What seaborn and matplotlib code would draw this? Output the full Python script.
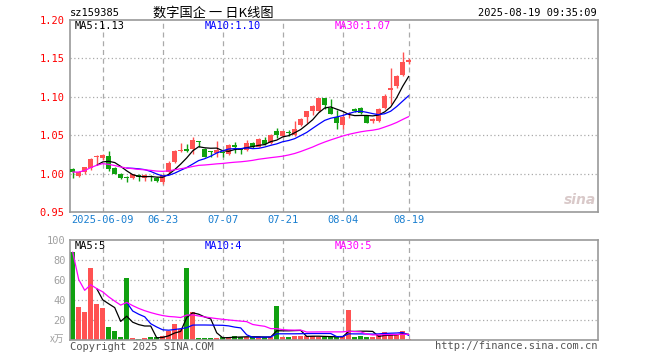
import numpy as np
import pandas as pd
import matplotlib
matplotlib.use("Agg")
import matplotlib.pyplot as plt
import seaborn as sns

# ---------------- data ----------------
opens = [1.006, 0.997, 1.002, 1.007, 1.021, 1.020, 1.023, 1.007, 1.000, 0.995,
         0.994, 0.998, 0.994, 0.996, 0.994, 0.989, 1.002, 1.015, 1.030, 1.032,
         1.032, 1.042, 1.032, 1.029, 1.027, 1.028, 1.025, 1.037, 1.032, 1.031,
         1.040, 1.035, 1.044, 1.040, 1.055, 1.049, 1.054, 1.050, 1.063, 1.0735,
         1.082, 1.081, 1.098, 1.086, 1.0735, 1.0635, 1.077, 1.084, 1.0857, 1.0757,
         1.068, 1.068, 1.085, 1.109, 1.114, 1.129, 1.145]
highs = [1.007, 1.003, 1.009, 1.020, 1.024, 1.025, 1.029, 1.008, 1.001, 0.997,
         1.000, 0.999, 0.999, 0.998, 0.995, 0.999, 1.016, 1.031, 1.0395, 1.038,
         1.048, 1.043, 1.033, 1.029, 1.042, 1.029, 1.038, 1.041, 1.033, 1.044,
         1.041, 1.046, 1.048, 1.051, 1.059, 1.056, 1.057, 1.068, 1.072, 1.082,
         1.089, 1.099, 1.099, 1.097, 1.083, 1.078, 1.080, 1.085, 1.087, 1.076,
         1.073, 1.085, 1.103, 1.138, 1.128, 1.158, 1.150]
lows = [0.994, 0.995, 1.000, 1.005, 1.012, 1.018, 1.004, 0.999, 0.993, 0.989,
        0.993, 0.991, 0.991, 0.990, 0.989, 0.986, 1.000, 1.014, 1.028, 1.028,
        1.026, 1.035, 1.021, 1.022, 1.022, 1.022, 1.024, 1.027, 1.025, 1.030,
        1.033, 1.034, 1.037, 1.039, 1.046, 1.048, 1.049, 1.049, 1.062, 1.066,
        1.0766, 1.080, 1.084, 1.077, 1.058, 1.058, 1.073, 1.080, 1.078, 1.066,
        1.066, 1.067, 1.084, 1.090, 1.111, 1.127, 1.143]
closes = [1.002, 1.002, 1.008, 1.019, 1.023, 1.024, 1.006, 1.000, 0.994, 0.994,
          0.999, 0.995, 0.998, 0.995, 0.990, 0.998, 1.014, 1.029, 1.031, 1.030,
          1.044, 1.041, 1.022, 1.028, 1.031, 1.027, 1.037, 1.034, 1.031, 1.040,
          1.034, 1.045, 1.039, 1.050, 1.050, 1.055, 1.053, 1.058, 1.071, 1.081,
          1.088, 1.098, 1.089, 1.078, 1.0665, 1.074, 1.078, 1.081, 1.079, 1.0665,
          1.071, 1.084, 1.1015, 1.111, 1.127, 1.145, 1.1485]
volumes = [88, 33, 28, 72, 36, 32, 13, 9, 3, 62,
           2, 1, 2, 3, 3, 4, 9, 16, 11, 72,
           28, 2, 2, 2, 2, 3, 3, 4, 3, 3,
           3, 3, 3, 3, 34, 3, 3, 4, 4, 4,
           4, 3, 3, 3, 3, 4, 30, 3, 4, 3,
           3, 5, 8, 5, 5, 9, 1.5]

holidays = ["2025-06-02"]
tick_dates = ["2025-06-09", "2025-06-23", "2025-07-07", "2025-07-21", "2025-08-04", "2025-08-19"]
tick_labels = ["2025-06-09", "06-23", "07-07", "07-21", "08-04", "08-19"]
price_ticks = [0.95, 1.00, 1.05, 1.10, 1.15, 1.20]
vol_ticks = [20, 40, 60, 80, 100]

code_text = "sz159385"
title_text = "数字国企 一 日K线图"
time_text = "2025-08-19 09:35:09"
price_legend = ["MA5:1.13", "MA10:1.10", "MA30:1.07"]
vol_legend = ["MA5:5", "MA10:4", "MA30:5"]

# ---------------- setup ----------------
sns.set_style("white")
plt.rcParams["font.family"] = ["DejaVu Sans Mono", "Noto Sans CJK SC"]

W, H = 660, 360
fig = plt.figure(figsize=(W / 100, H / 100), dpi=100)
fig.patch.set_facecolor("white")

def ax_rect(l, t, r, b):
    return [l / W, 1 - b / H, (r - l) / W, (b - t) / H]

def fx(x):
    return x / W

def fy(y):
    return 1 - y / H

ax_p = fig.add_axes(ax_rect(70, 20, 598, 212))
ax_v = fig.add_axes(ax_rect(70, 240, 598, 340))

dates = pd.bdate_range("2025-05-30", "2025-08-19")
dates = dates[~dates.isin(pd.to_datetime(holidays))]
idx = np.arange(len(dates))
tick_pos = [dates.get_loc(pd.Timestamp(d)) for d in tick_dates]

o = np.array(opens); h = np.array(highs); l = np.array(lows); c = np.array(closes)
v = np.array(volumes)
RED = "#ff5252"
GREEN = "#10a010"
up = c >= o
cols = np.where(up, RED, GREEN)

cs = pd.Series(c)
vs = pd.Series(v)
ma_colors = ["black", "#0000ff", "#ff00ff"]
p_mas = [cs.rolling(5).mean(), cs.rolling(10).mean(), cs.rolling(30, min_periods=1).mean()]
v_mas = [vs.rolling(5).mean(), vs.rolling(10).mean(), vs.rolling(30, min_periods=1).mean()]

xlim = (-0.45, 87.55)
FRAME = "#999999"
GRID = "#aaaaaa"

for ax in (ax_p, ax_v):
    ax.set_xlim(*xlim)
    for s in ax.spines.values():
        s.set_color(FRAME)
        s.set_linewidth(1.2)
    for p in tick_pos:
        ax.axvline(p, color=GRID, lw=0.9, ls=(0, (4, 3)), zorder=0)
    ax.tick_params(length=0)

# ---------------- price panel ----------------
ax_p.set_ylim(0.95, 1.20)
for t in price_ticks[1:-1]:
    ax_p.axhline(t, color=GRID, lw=0.9, ls=(0, (1, 2)), zorder=0)
ax_p.vlines(idx, l, h, colors=cols, lw=1.0, zorder=2)
body_h = np.maximum(np.abs(c - o), 0.0013)
ax_p.bar(idx, body_h, bottom=np.minimum(o, c), width=0.78, color=cols, lw=0, zorder=3)
for ma, col in zip(p_mas, ma_colors):
    sns.lineplot(x=idx, y=ma.values, ax=ax_p, color=col, lw=0.9, zorder=4)
ax_p.set_xlabel(""); ax_p.set_ylabel("")
ax_p.set_yticks(price_ticks)
ax_p.set_yticklabels([f"{t:.2f}" for t in price_ticks], color="red", fontsize=7.5)
ax_p.set_xticks(tick_pos)
ax_p.set_xticklabels(tick_labels, color="#1a7fd0", fontsize=7.5)
ax_p.tick_params(axis="y", pad=4)
ax_p.tick_params(axis="x", pad=2)

# ---------------- volume panel ----------------
ax_v.set_ylim(0, 100)
for t in vol_ticks[:-1]:
    ax_v.axhline(t, color=GRID, lw=0.9, ls=(0, (1, 2)), zorder=0)
ax_v.bar(idx, v, width=0.78, color=cols, lw=0, zorder=2)
for ma, col in zip(v_mas, ma_colors):
    sns.lineplot(x=idx, y=ma.values, ax=ax_v, color=col, lw=0.9, zorder=4)
ax_v.set_xlabel(""); ax_v.set_ylabel("")
ax_v.set_xticks([])
ax_v.set_yticks(vol_ticks)
ax_v.set_yticklabels([str(t) for t in vol_ticks], color="#a0a0a0", fontsize=7.5)
ax_v.tick_params(axis="y", pad=3)

# ---------------- texts ----------------
fig.text(fx(70), fy(13), code_text, fontsize=7.5, color="black", va="center", ha="left")
fig.text(fx(213), fy(13), title_text, fontsize=9.5, color="black", va="center", ha="center",
         family=["Noto Sans CJK SC", "DejaVu Sans"])
fig.text(fx(597), fy(13), time_text, fontsize=7.5, color="black", va="center", ha="right")

leg_x = [75, 205, 335]
for txt, x, col in zip(price_legend, leg_x, ma_colors):
    fig.text(fx(x), fy(26), txt, fontsize=7.5, color=col, va="center", ha="left")
for txt, x, col in zip(vol_legend, leg_x, ma_colors):
    fig.text(fx(x), fy(246), txt, fontsize=7.5, color=col, va="center", ha="left")

fig.text(fx(64), fy(339), "x万", fontsize=7, color="#a0a0a0", va="center", ha="right",
         style="italic", family=["Noto Sans CJK SC", "DejaVu Sans"])
fig.text(fx(70), fy(347), "Copyright 2025 SINA.COM", fontsize=7.5, color="#555555",
         va="center", ha="left")
fig.text(fx(597), fy(346), "http://finance.sina.com.cn", fontsize=7.5, color="#555555",
         va="center", ha="right")
fig.text(fx(596), fy(200), "sina", fontsize=10, color="#d9c9c9", va="center", ha="right",
         style="italic", weight="bold", family=["DejaVu Sans"])

fig.savefig("out.png", dpi=100, facecolor="white")
